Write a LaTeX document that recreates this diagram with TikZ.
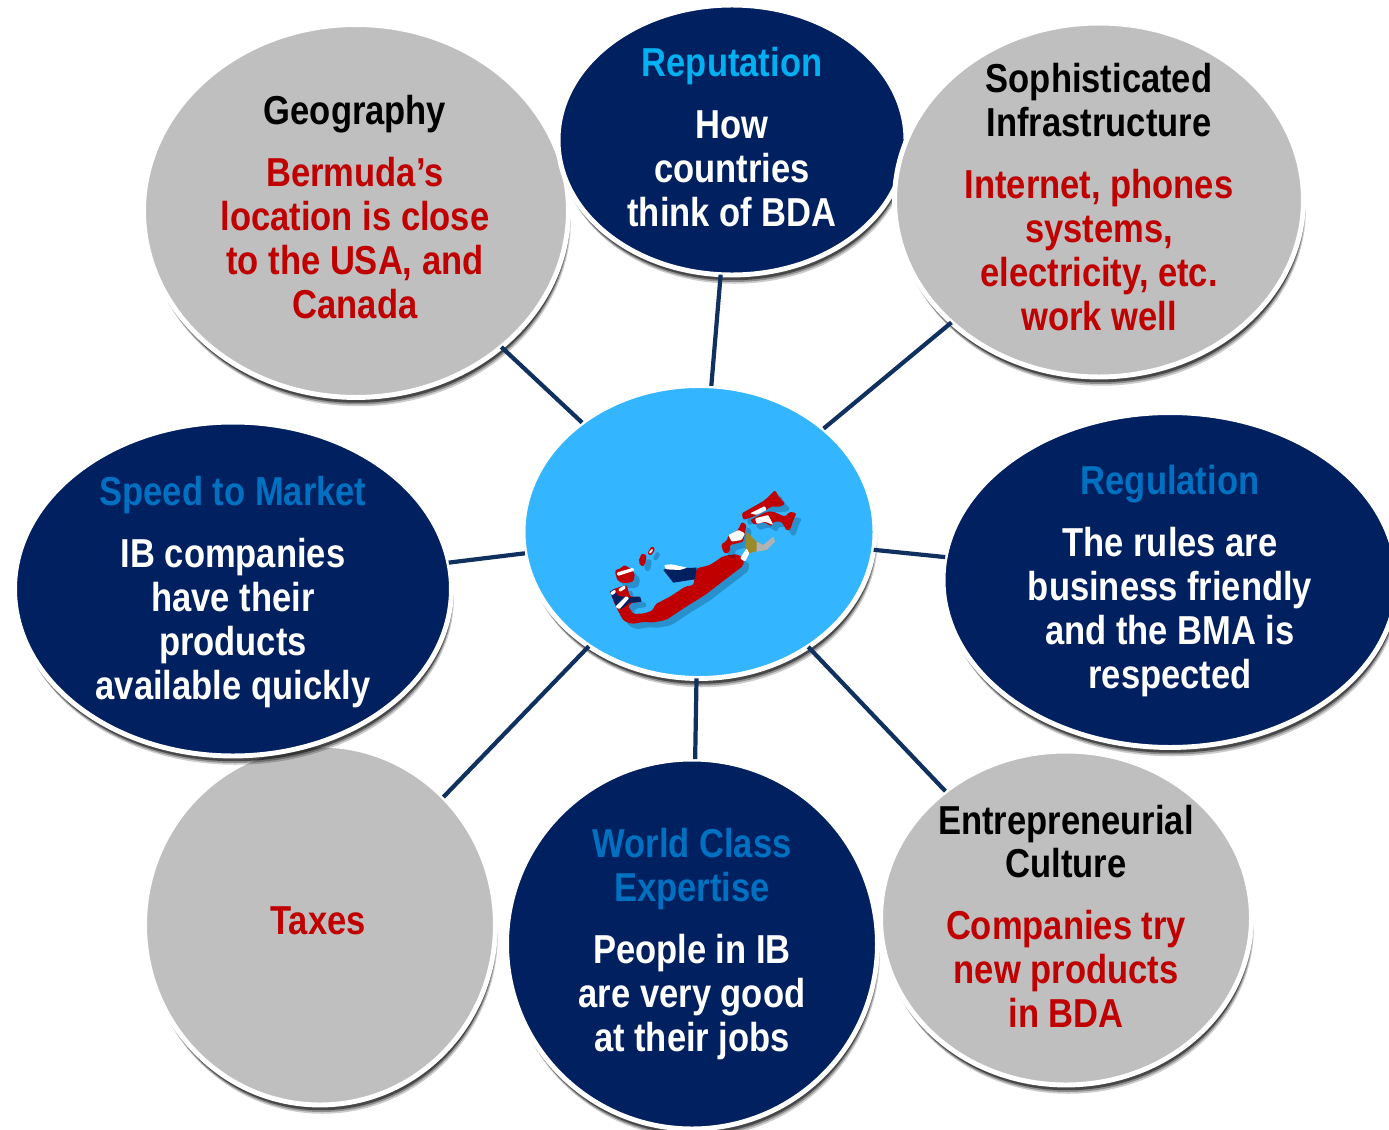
\documentclass[tikz,border=0pt]{standalone}
\usepackage{fontspec}
\setmainfont[FakeStretch=0.855]{Liberation Sans}
\usepackage{tikz}
\usetikzlibrary{shapes,shapes.geometric,shadows,positioning}
\definecolor{navyoval}{HTML}{002060}
\definecolor{greyoval}{HTML}{BFBFBF}
\definecolor{hubblue}{HTML}{33B5FF}
\definecolor{linknavy}{HTML}{10315F}
\definecolor{textred}{HTML}{C00000}
\definecolor{titlecyan}{HTML}{00B0F0}
\definecolor{titleblue}{HTML}{0070C0}
\definecolor{crestgold}{HTML}{9A8A2A}
\tikzstyle{oval} = [ellipse, draw=white, line width=2.8pt, inner sep=0pt, outer sep=0pt,
    drop shadow={shadow xshift=1.4pt, shadow yshift=-5pt, opacity=0.2, fill=black},
    drop shadow={shadow xshift=1pt, shadow yshift=-4pt, opacity=0.3, fill=black},
    drop shadow={shadow xshift=0.7pt, shadow yshift=-3pt, opacity=0.5, fill=black}]
\tikzstyle{navy} = [oval, fill=navyoval]
\tikzstyle{grey} = [oval, fill=greyoval]
\tikzstyle{hub} = [oval, fill=hubblue]
\tikzstyle{words} = [align=center, inner sep=0pt, font=\fontsize{23}{25}\selectfont\bfseries]
\tikzstyle{link} = [draw=linknavy, line width=2.4pt]
\tikzstyle{island} = [fill=textred, rounded corners=1.2pt,
    drop shadow={shadow xshift=3pt, shadow yshift=-3pt, opacity=0.2, fill=black}]
\tikzstyle{stripe} = [fill=white, rounded corners=0.6pt]
\tikzstyle{jack} = [fill=navyoval]
\begin{document}
\begin{tikzpicture}[x=0.02cm,y=-0.02cm]
    \useasboundingbox (0,0) rectangle (1389,1129);

    \node[grey, minimum width=8.5cm, minimum height=7.46cm] (geography) at (356,211) {};
    \node[words] (geographytext) at (355,207) {
        Geography\\[10pt]
        \textcolor{textred}{Bermuda’s}\\
        \textcolor{textred}{location is close}\\
        \textcolor{textred}{to the USA, and}\\
        \textcolor{textred}{Canada}
    };

    \node[navy, minimum width=6.96cm, minimum height=5.4cm] (reputation) at (732,140) {};
    \node[words] (reputationtext) at (732,137) {
        \textcolor{titlecyan}{Reputation}\\[10pt]
        \textcolor{white}{How}\\
        \textcolor{white}{countries}\\
        \textcolor{white}{think of BDA}
    };

    \node[grey, minimum width=8.18cm, minimum height=7.08cm] (infrastructure) at (1099,200) {};
    \node[words] (infrastructuretext) at (1099,197) {
        Sophisticated\\
        Infrastructure\\[10pt]
        \textcolor{textred}{Internet, phones}\\
        \textcolor{textred}{systems,}\\
        \textcolor{textred}{electricity, etc.}\\
        \textcolor{textred}{work well}
    };

    \node[navy, minimum width=9.08cm, minimum height=6.7cm] (regulation) at (1170,580) {};
    \node[words] (regulationtext) at (1170,581) {
        \textcolor{titleblue}{Regulation}\\[10pt]
        \textcolor{white}{The rules are}\\
        \textcolor{white}{business friendly}\\
        \textcolor{white}{and the BMA is}\\
        \textcolor{white}{respected}
    };

    \node[grey, minimum width=7.42cm, minimum height=6.68cm] (culture) at (1066,918) {};
    \node[words] (culturetext) at (1066,916) {
        Entrepreneurial\\
        Culture\\[10pt]
        \textcolor{textred}{Companies try}\\
        \textcolor{textred}{new products}\\
        \textcolor{textred}{in BDA}
    };

    \node[grey, minimum width=7.02cm, minimum height=7.2cm] (taxes) at (320,925) {};
    \node[words] (taxestext) at (318,921) {\textcolor{textred}{Taxes}};

    \node[navy, minimum width=7.42cm, minimum height=7.4cm] (expertise) at (692,944) {};
    \node[words] (expertisetext) at (692,944) {
        \textcolor{titleblue}{World Class}\\
        \textcolor{titleblue}{Expertise}\\[10pt]
        \textcolor{white}{People in IB}\\
        \textcolor{white}{are very good}\\
        \textcolor{white}{at their jobs}
    };

    \node[navy, minimum width=8.74cm, minimum height=6.68cm] (speed) at (233,589) {};
    \node[words] (speedtext) at (233,592) {
        \textcolor{titleblue}{Speed to Market}\\[10pt]
        \textcolor{white}{IB companies}\\
        \textcolor{white}{have their}\\
        \textcolor{white}{products}\\
        \textcolor{white}{available quickly}
    };

    \node[hub, minimum width=7.04cm, minimum height=5.86cm] (centre) at (699,532) {};

    \draw[link] (centre) -- (geography);
    \draw[link] (centre) -- (reputation);
    \draw[link] (centre) -- (infrastructure);
    \draw[link] (centre) -- (regulation);
    \draw[link] (centre) -- (culture);
    \draw[link] (centre) -- (expertise);
    \draw[link] (centre) -- (taxes);
    \draw[link] (centre) -- (speed);

    \begin{scope}[shift={(590,470)},x=0.00667cm,y=-0.00667cm]
        \path[island] (60,365) -- (75,355) -- (110,345) -- (120,380) -- (150,380) -- (155,395) -- (120,400) -- (115,410) -- (130,432) -- (165,430) -- (190,420) -- (195,403) -- (240,380) -- (285,350) -- (310,345) -- (320,295) -- (360,285) -- (400,258) -- (440,252) -- (462,265) -- (460,287) -- (410,325) -- (345,375) -- (285,412) -- (228,450) -- (185,458) -- (165,455) -- (125,462) -- (100,452) -- (75,405) -- cycle;
        \path[jack] (60,365) -- (72,358) -- (85,378) -- (120,382) -- (150,380) -- (155,395) -- (120,398) -- (92,418) -- (75,400) -- cycle;
        \path[stripe] (76,410) -- (108,378) -- (118,384) -- (88,418) -- cycle;
        \path[stripe] (60,368) -- (75,358) -- (78,368) -- (65,376) -- cycle;
        \path[stripe] (84,358) -- (105,345) -- (107,355) -- (90,366) -- cycle;
        \path[island] (75,300) -- (95,295) -- (100,285) -- (115,290) -- (135,310) -- (130,335) -- (105,340) -- (85,335) -- (78,320) -- cycle;
        \path[stripe] (80,308) -- (130,293) -- (133,302) -- (83,318) -- cycle;
        \path[island] (145,275) -- (155,250) -- (170,255) -- (165,285) -- (155,290) -- cycle;
        \path[island] (172,250) -- (185,228) -- (195,235) -- (190,250) -- (180,257) -- cycle;
        \path[stripe] (176,248) -- (186,236) -- (190,240) -- (180,252) -- cycle;
        \path[jack] (230,295) -- (320,293) -- (315,328) -- (250,338) -- (220,300) -- cycle;
        \path[stripe] (222,285) -- (245,283) -- (292,293) -- (270,300) -- (228,298) -- cycle;
        \path[island] (395,220) -- (410,215) -- (415,195) -- (445,180) -- (455,155) -- (470,165) -- (465,185) -- (460,215) -- (420,225) -- (420,245) -- (405,252) -- (395,235) -- cycle;
        \path[stripe] (415,195) -- (445,180) -- (465,190) -- (455,210) -- (425,215) -- cycle;
        \path[fill=crestgold] (470,185) -- (500,215) -- (520,225) -- (510,240) -- (478,250) -- (465,235) -- cycle;
        \path[fill=gray!60] (500,215) -- (520,225) -- (550,200) -- (555,215) -- (530,240) -- (500,245) -- cycle;
        \path[stripe] (470,235) -- (478,250) -- (465,275) -- (450,265) -- cycle;
        \path[island] (455,130) -- (500,105) -- (525,90) -- (555,60) -- (570,85) -- (585,100) -- (575,110) -- (540,110) -- (530,120) -- (490,140) -- (460,150) -- cycle;
        \path[stripe] (480,130) -- (525,108) -- (530,120) -- (500,135) -- cycle;
        \path[island] (480,150) -- (530,125) -- (550,125) -- (585,140) -- (600,125) -- (620,130) -- (610,150) -- (600,180) -- (590,182) -- (575,155) -- (550,155) -- (545,170) -- (520,155) -- (495,165) -- cycle;
        \path[stripe] (495,145) -- (535,135) -- (550,165) -- (525,155) -- (500,162) -- cycle;
    \end{scope}
\end{tikzpicture}
\end{document}
